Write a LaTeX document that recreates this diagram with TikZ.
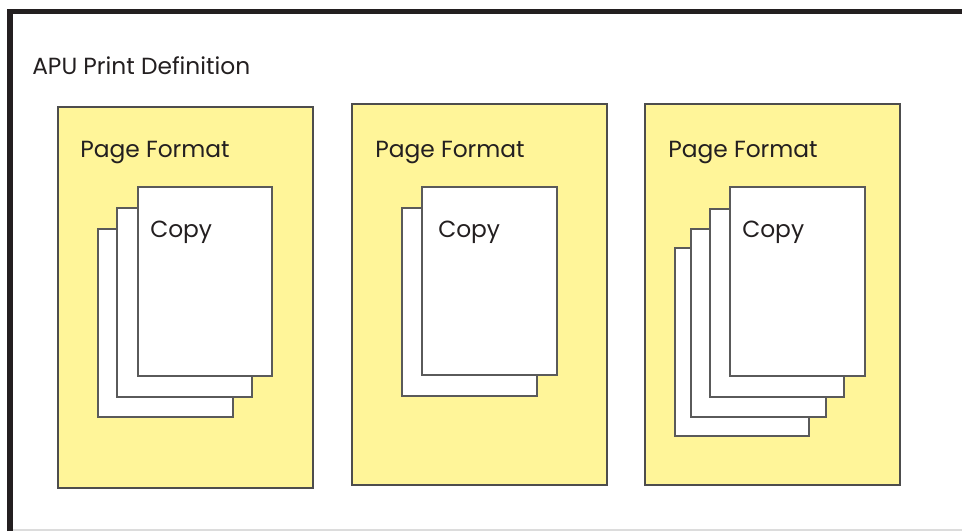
\documentclass[tikz,border=0pt]{standalone}
\usepackage{fontspec}
\setmainfont{Poppins}
\definecolor{framecol}{HTML}{231F20}
\definecolor{panelfill}{HTML}{FFF599}
\definecolor{panelline}{HTML}{4D4D4D}
\definecolor{sheetline}{HTML}{5A5A5A}
\definecolor{basecol}{HTML}{DCDCDC}
\tikzset{
  panel/.style={fill=panelfill,draw=panelline,line width=0.9pt},
  sheet/.style={fill=white,draw=sheetline,line width=0.9pt},
  lbl/.style={anchor=base west,inner sep=0pt,font=\fontsize{17.5}{20}\selectfont,text=framecol},
}
\begin{document}
\begin{tikzpicture}[x=0.75pt,y=-0.75pt]
\useasboundingbox (0,0) rectangle (962,531);
\fill[white] (0,0) rectangle (962,531);
% outer frame
\draw[basecol,line width=1.5pt] (10,530) -- (962,530);
\draw[framecol,line width=3.9pt] (10,531) -- (10,11.5) -- (962,11.5);
\node[lbl] (title) at (32,75) {APU Print Definition};
% panel 1
\draw[panel] (58,107) rectangle (313,488);
\node[lbl] (pf1) at (80,157) {Page Format};
\draw[sheet] (98,229) rectangle (233,417);
\draw[sheet] (117,208) rectangle (252,397);
\draw[sheet] (138,187) rectangle (272,376);
\node[lbl] (c1) at (150,237) {Copy};
% panel 2
\draw[panel] (352,104) rectangle (607,485);
\node[lbl] (pf2) at (375,157) {Page Format};
\draw[sheet] (402,208) rectangle (537,396);
\draw[sheet] (422,187) rectangle (557,375);
\node[lbl] (c2) at (438,237) {Copy};
% panel 3
\draw[panel] (645,104) rectangle (900,485);
\node[lbl] (pf3) at (668,157) {Page Format};
\draw[sheet] (675,248) rectangle (809,436);
\draw[sheet] (691,229) rectangle (826,417);
\draw[sheet] (710,209) rectangle (844,397);
\draw[sheet] (730,187) rectangle (865,376);
\node[lbl] (c3) at (742,237) {Copy};
\end{tikzpicture}
\end{document}
